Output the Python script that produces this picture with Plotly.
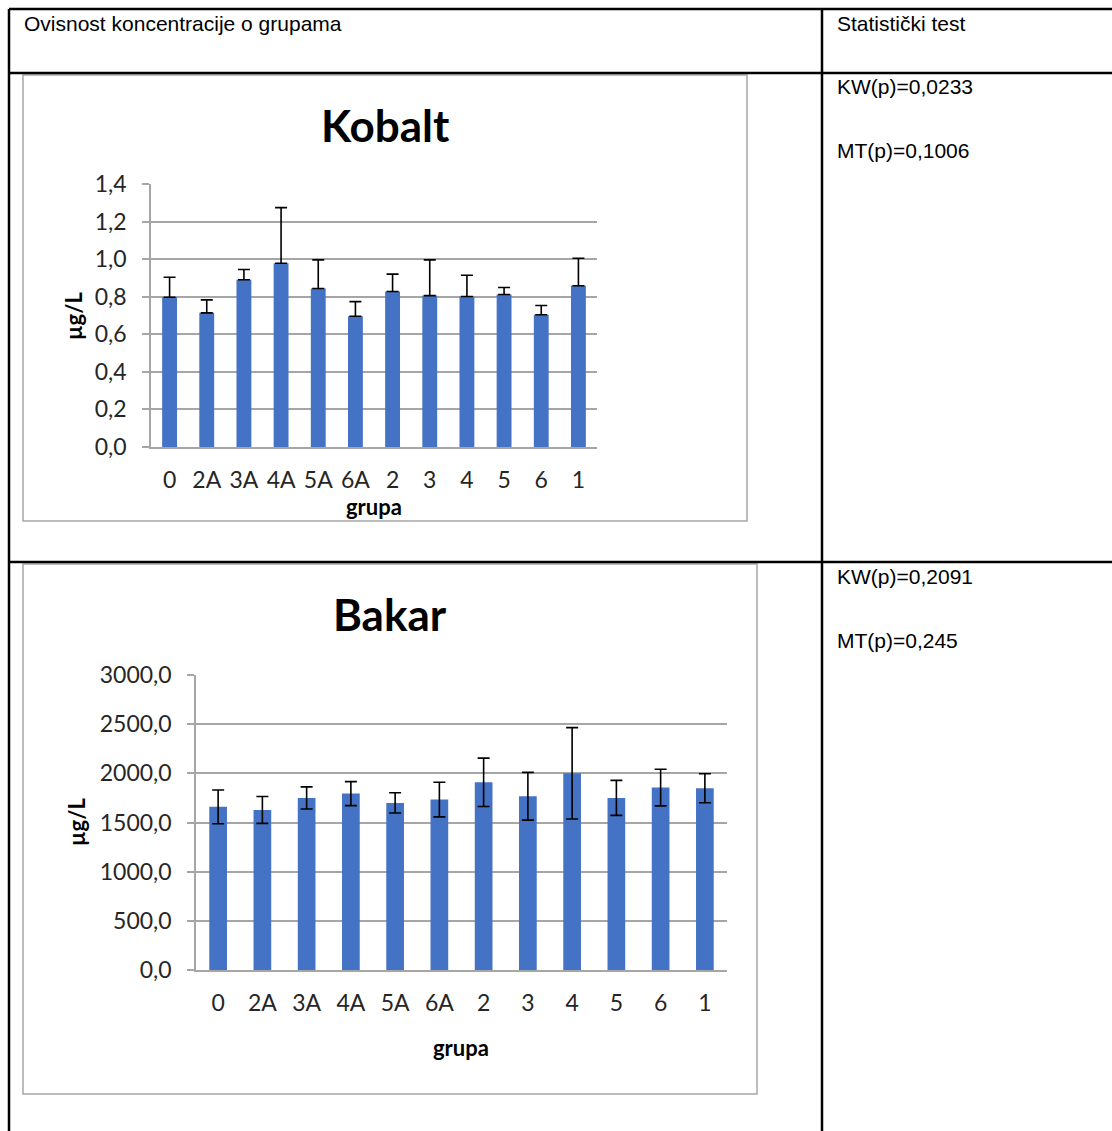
import plotly.graph_objects as go

W, H = 1112, 1131

categories = ["0", "2A", "3A", "4A", "5A", "6A", "2", "3", "4", "5", "6", "1"]

kobalt_values = [0.797, 0.714, 0.890, 0.978, 0.844, 0.696, 0.828, 0.806, 0.801, 0.812, 0.704, 0.858]
kobalt_err = [0.107, 0.069, 0.055, 0.296, 0.152, 0.078, 0.092, 0.190, 0.113, 0.037, 0.049, 0.147]

bakar_values = [1659, 1628, 1750, 1794, 1699, 1733, 1909, 1767, 2000, 1750, 1855, 1848]
bakar_err = [172, 137, 112, 122, 103, 176, 246, 243, 465, 178, 186, 147]

kobalt_ticks = [0.0, 0.2, 0.4, 0.6, 0.8, 1.0, 1.2, 1.4]
kobalt_ticktext = ["0,0", "0,2", "0,4", "0,6", "0,8", "1,0", "1,2", "1,4"]
bakar_ticks = [0, 500, 1000, 1500, 2000, 2500, 3000]
bakar_ticktext = ["0,0", "500,0", "1000,0", "1500,0", "2000,0", "2500,0", "3000,0"]

header_left = "Ovisnost koncentracije o grupama"
header_right = "Statistički test"
stats_kobalt = ["KW(p)=0,0233", "MT(p)=0,1006"]
stats_bakar = ["KW(p)=0,2091", "MT(p)=0,245"]


def px(x):
    return x / W


def py(y):
    return 1 - y / H


BAR = "#4472C4"
GRID = "#a6a6a6"
TXT = "#262626"
TICKFONT = dict(family="Lato", size=23, color=TXT)

fig = go.Figure()
fig.add_trace(go.Bar(
    x=categories, y=kobalt_values, marker=dict(color=BAR, line=dict(width=0)),
    error_y=dict(type="data", symmetric=False, array=kobalt_err, arrayminus=[0] * len(kobalt_err),
                 color="black", thickness=1.6, width=6),
    xaxis="x", yaxis="y", showlegend=False,
))
fig.add_trace(go.Bar(
    x=categories, y=bakar_values, marker=dict(color=BAR, line=dict(width=0)),
    error_y=dict(type="data", array=bakar_err, color="black", thickness=1.6, width=6),
    xaxis="x2", yaxis="y2", showlegend=False,
))

xcommon = dict(showgrid=False, showline=True, linecolor=GRID, linewidth=1.5, ticks="",
               tickfont=TICKFONT, ticklabelstandoff=12, fixedrange=True, type="category",
               automargin=False)
ycommon = dict(showgrid=True, gridcolor=GRID, gridwidth=1.5, showline=True, linecolor=GRID,
               linewidth=1.5, ticks="outside", ticklen=7, tickcolor=GRID, tickwidth=1.5,
               tickfont=TICKFONT, ticklabelstandoff=11, zeroline=False, fixedrange=True,
               automargin=False)

fig.update_layout(
    template="none",
    width=W, height=H, margin=dict(l=0, r=0, t=0, b=0, pad=0, autoexpand=False),
    paper_bgcolor="white", plot_bgcolor="white",
    bargap=0.6,
    xaxis=dict(domain=[px(151), px(597)], anchor="y", **xcommon),
    yaxis=dict(domain=[py(447), py(184)], anchor="x", range=[0, 1.4],
               tickvals=kobalt_ticks, ticktext=kobalt_ticktext, **ycommon),
    xaxis2=dict(domain=[px(196), px(727)], anchor="y2", **xcommon),
    yaxis2=dict(domain=[py(970), py(675)], anchor="x2", range=[0, 3000],
                tickvals=bakar_ticks, ticktext=bakar_ticktext, **ycommon),
)

shapes = []
LINE = dict(color="black", width=2.5)
# table lines
for (x0, y0, x1, y1) in [(9, 9, W, 9), (9, 73, W, 73), (9, 562, W, 562),
                         (9, 9, 9, H), (822, 9, 822, H)]:
    shapes.append(dict(type="line", xref="paper", yref="paper",
                       x0=px(x0), y0=py(y0), x1=px(x1), y1=py(y1), line=LINE))
# chart frames
for (x0, y0, x1, y1) in [(23, 75, 747, 521), (23, 564, 757, 1094)]:
    shapes.append(dict(type="rect", xref="paper", yref="paper",
                       x0=px(x0), y0=py(y0), x1=px(x1), y1=py(y1),
                       line=dict(color="#a6a6a6", width=1.5), fillcolor="rgba(0,0,0,0)", layer="below"))
fig.update_layout(shapes=shapes)

ARIAL = dict(family="Liberation Sans", size=21, color="black")
ann = []


def text(x, y, t, font, xanchor="left", angle=0):
    ann.append(dict(x=px(x), y=py(y), xref="paper", yref="paper", text=t, showarrow=False,
                    xanchor=xanchor, yanchor="middle", font=font, textangle=angle))


text(22, 23, header_left, ARIAL)
text(835, 23, header_right, ARIAL)
text(835, 87, stats_kobalt[0], ARIAL)
text(835, 151, stats_kobalt[1], ARIAL)
text(835, 576, stats_bakar[0], ARIAL)
text(835, 640, stats_bakar[1], ARIAL)

TITLE = dict(family="Lato", size=44, color="black")
AXT = dict(family="Lato", size=22, color="black")
text(385, 125, "<b>Kobalt</b>", TITLE, xanchor="center")
text(390, 614, "<b>Bakar</b>", TITLE, xanchor="center")
text(74, 316, "<b>µg/L</b>", AXT, xanchor="center", angle=-90)
text(76, 822, "<b>µg/L</b>", AXT, xanchor="center", angle=-90)
text(374, 506, "<b>grupa</b>", AXT, xanchor="center")
text(461, 1047, "<b>grupa</b>", AXT, xanchor="center")
fig.update_layout(annotations=ann)

fig.write_html("out.html", post_script="document.body.style.margin='0';document.body.style.overflow='hidden';",
               config={"displayModeBar": False})
